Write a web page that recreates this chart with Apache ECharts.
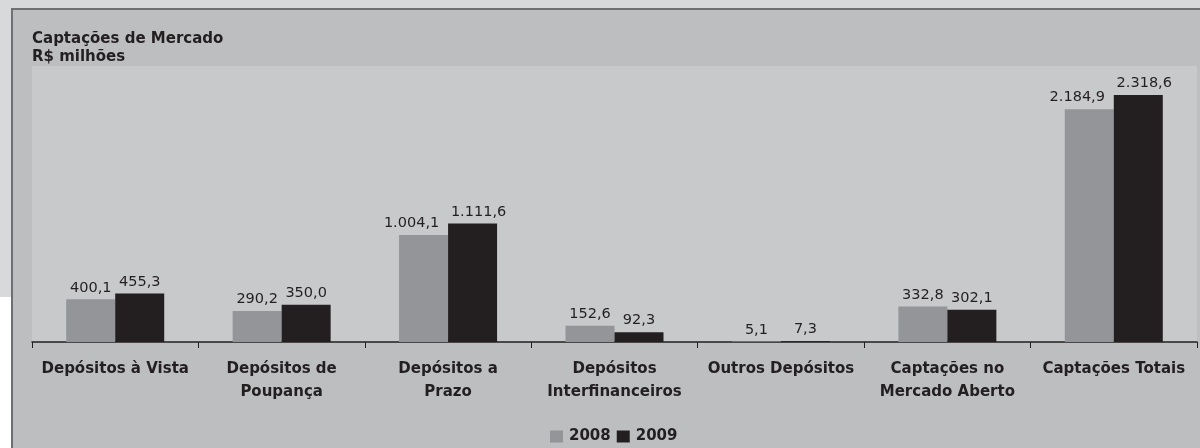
<!DOCTYPE html>
<html>
<head>
<meta charset="utf-8">
<script src="https://cdn.jsdelivr.net/npm/echarts@6/dist/echarts.min.js"></script>
<style>
  html, body { margin: 0; padding: 0; background: #d8d9da; }
  #chart { width: 1200px; height: 448px; }
</style>
</head>
<body>
<div id="chart"></div>
<script>
const categories = [
  "Depósitos à Vista",
  "Depósitos de\nPoupança",
  "Depósitos a\nPrazo",
  "Depósitos\nInterfinanceiros",
  "Outros Depósitos",
  "Captações no\nMercado Aberto",
  "Captações Totais",
];
const years = ["2008", "2009"];
const values2008 = [400.1, 290.2, 1004.1, 152.6, 5.1, 332.8, 2184.9];
const values2009 = [455.3, 350.0, 1111.6, 92.3, 7.3, 302.1, 2318.6];

const textColor = "#231f20";
const font = "'DejaVu Sans', Verdana, sans-serif";

// 1.234,5 style
function fmt(v) {
  const parts = v.toFixed(1).split(".");
  const int = parts[0].replace(/\B(?=(\d{3})+(?!\d))/g, ".");
  return int + "," + parts[1];
}

// wide labels (thousands) get pushed apart so they don't collide
function withLabels(values, shift) {
  return values.map((v) => {
    const item = { value: v };
    if (v >= 1000) item.label = { offset: [shift, 0] };
    return item;
  });
}

const chart = echarts.init(document.getElementById("chart"));

const barLabel = {
  show: true,
  position: "top",
  distance: 4,
  color: textColor,
  fontSize: 14.5,
  fontFamily: font,
  formatter: (p) => fmt(p.value),
};

const option = {
  backgroundColor: "#d8d9da",
  animation: false,
  graphic: [
    {
      type: "polygon",
      z: -10,
      shape: { points: [[0, 297], [12, 297], [12, 448], [0, 448]] },
      style: { fill: "#ffffff" },
    },
    {
      type: "rect",
      z: -9,
      shape: { x: 12, y: 9, width: 1200, height: 460 },
      style: { fill: "#bdbec0", stroke: "#6f7073", lineWidth: 2 },
    },
  ],
  title: {
    text: "Captações de Mercado\nR$ milhões",
    left: 32,
    top: 30,
    padding: 0,
    textStyle: {
      color: textColor,
      fontSize: 15,
      fontWeight: "bold",
      fontFamily: font,
      lineHeight: 18,
    },
  },
  legend: {
    data: years,
    left: 550,
    top: 429,
    padding: 0,
    icon: "rect",
    itemWidth: 13,
    itemHeight: 12,
    itemGap: 6,
    textStyle: {
      color: textColor,
      fontSize: 15,
      fontWeight: "bold",
      fontFamily: font,
      padding: [0, 0, 0, 1],
    },
  },
  grid: {
    show: true,
    left: 32,
    right: 3,
    top: 66,
    bottom: 106,
    backgroundColor: "#c8c9cb",
    borderWidth: 0,
  },
  xAxis: {
    type: "category",
    data: categories,
    axisLine: { lineStyle: { color: textColor, width: 1.5 } },
    axisTick: { show: true, length: 6, lineStyle: { color: textColor } },
    axisLabel: {
      color: textColor,
      fontSize: 15,
      fontWeight: "bold",
      fontFamily: font,
      lineHeight: 23,
      margin: 16,
      interval: 0,
    },
  },
  yAxis: {
    type: "value",
    min: 0,
    max: 2590,
    show: false,
    splitLine: { show: false },
  },
  series: [
    {
      name: years[0],
      type: "bar",
      data: withLabels(values2008, -12),
      barWidth: 49,
      barGap: "0%",
      itemStyle: { color: "#939598" },
      label: barLabel,
    },
    {
      name: years[1],
      type: "bar",
      data: withLabels(values2009, 6),
      barWidth: 49,
      barGap: "0%",
      itemStyle: { color: "#231f20" },
      label: barLabel,
    },
  ],
};

chart.setOption(option);
</script>
</body>
</html>
